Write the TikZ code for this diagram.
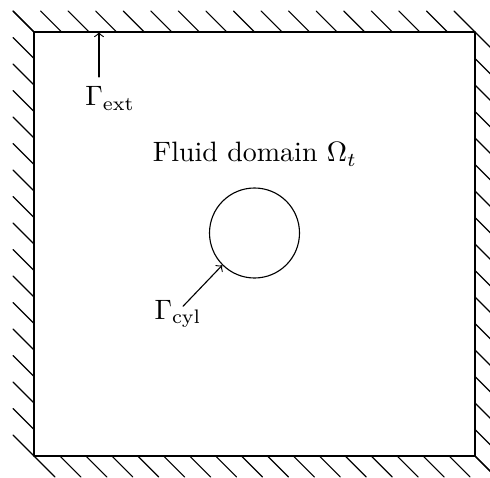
\documentclass[tikz,border=0pt]{standalone}
\begin{document}
\begin{tikzpicture}[x=.357pt, y=.357pt, line join=round, line cap=round]
\clip (0,0) rectangle (490,477);
\path
(34,21) coordinate (A)
(475,445) coordinate (C)
(99,445) coordinate (E);
% hatching outside the walls
\foreach \k in {0,...,16} \draw (34+\k*27.5625,445) -- +(-21,21) (34,21+\k*26.5) -- +(-21,21) (475,21+\k*26.5) -- +(21,-21);
\foreach \k in {0,...,17} \draw (34+\k*25.94,21) -- +(21,-21);
\draw[thick] (A) rectangle (C);
\node[circle, draw, minimum size=32.13pt, inner sep=0] (O) at (254.5,244) {};
\node[anchor=base] (F) at (255,315) {Fluid domain $\Omega_t$};
\node[anchor=base] (G) at (110,371) {$\Gamma_{\mathrm{ext}}$};
\node[anchor=base, inner sep=0] (H) at (178,158) {$\Gamma_{\mathrm{cyl}}$};
\draw[->] (G.north -| E) -- (E);
\draw[->] ([shift={(5,-7)}]H.north) -- (O.225);
\end{tikzpicture}
\end{document}
